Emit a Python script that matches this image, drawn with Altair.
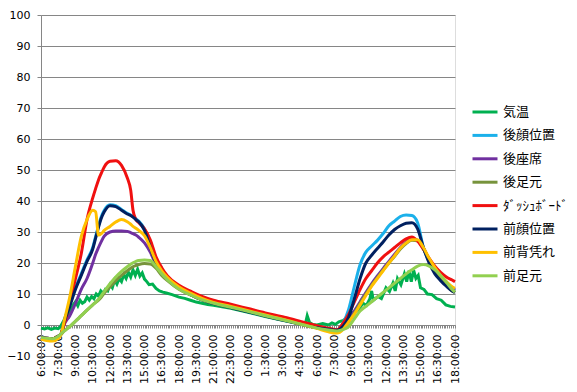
import altair as alt
import pandas as pd

# ---- data (hours after 6:00 of day 1; value in deg C) ----
series_names = ["気温", "後顔位置", "後座席", "後足元", "ﾀﾞｯｼｭﾎﾞｰﾄﾞ", "前顔位置", "前背凭れ", "前足元"]
series_colors = ["#00B050", "#1BB0EA", "#7030A0", "#77933C", "#F01010", "#002060", "#FFC000", "#92D050"]

hours = [0, 0.5, 1, 1.5, 1.75, 2, 2.5, 3, 3.5, 4,
         4.5, 4.75, 5, 5.25, 5.5, 6, 6.5, 7, 7.5, 7.8, 8,
         8.25, 8.5, 9, 9.5, 10, 10.5, 11, 12, 13, 14,
         15, 16.5, 18, 19.5, 21, 22.5, 24, 25, 25.75, 26.25,
         26.75, 27.25, 27.75, 28.25, 28.75, 29.25, 29.75, 30.25, 30.75, 31.25,
         31.75, 32.25, 32.75, 33.25, 33.75, 34.25, 34.75, 35.25, 35.75, 36]

dashboard = [-4, -4.3, -4.4, -3.6, -2.8, 0, 7, 15, 23, 34,
             41, 44, 46.8, 49, 51, 52.8, 53, 51.5, 47.5, 43.5, 37,
             34, 33, 31, 27.5, 22, 18.5, 15.8, 12.8, 10.9, 9.2,
             8, 6.7, 5.3, 3.9, 2.7, 1.2, -0.2, -1, -1.5, 0.5,
             3.5, 7.5, 11.5, 15, 17.5, 20, 22, 23.5, 25, 26.5,
             27.8, 28.4, 27, 24.5, 21.5, 19, 17, 15.5, 14.5, 14]

rear_face = [-4, -4.3, -4.4, -3.6, -2.8, 1, 6.5, 12, 16.5, 21,
             25, 28.5, 32, 35, 37, 38.8, 38.5, 37.3, 36, 35.5, 35,
             34.3, 33.5, 31, 25.5, 20.5, 17.5, 15, 12, 10, 8.3,
             7.1, 5.8, 4.4, 3, 1.7, 0.4, -0.8, -1.3, -1.6, 0.5,
             5, 12.5, 19.5, 23.5, 25.5, 27.3, 29.5, 32, 33.5, 35,
             35.5, 35.3, 33, 25, 20.5, 17, 15, 13, 11.5, 11]

front_face = [-4, -4.3, -4.4, -3.6, -2.8, 0.8, 6, 11.5, 16, 20.5,
              24.5, 28, 31.5, 34.5, 36.5, 38.5, 38.2, 37, 35.8, 35.3, 34.8,
              34, 33.3, 30.5, 25, 20, 17, 14.8, 11.8, 9.8, 8.1,
              6.9, 5.6, 4.3, 2.9, 1.6, 0.3, -0.9, -1.4, -1.7, -0.5,
              2.5, 8.5, 15, 20, 22.5, 24.7, 26.8, 29, 30.8, 32,
              32.8, 33, 31, 25, 20, 16.5, 14.3, 12.5, 11, 10.5]

front_back = [-4.5, -5, -5.2, -4.3, -3, 1, 9, 19, 28.5, 34,
              37, 36.5, 29, 29.5, 30.5, 31.8, 33.2, 34, 33.3, 32.5, 31.8,
              31.2, 30.5, 28.8, 25, 20.5, 17.5, 15.3, 12.3, 10.3, 8.6,
              7.3, 6, 4.6, 3.2, 1.9, 0.4, -1.1, -2.2, -2.6, -1.5,
              1, 3.5, 6.5, 9.5, 12.5, 15, 17.5, 20, 22.3, 24.8,
              26.5, 27.5, 27.5, 25, 21.5, 18.5, 16, 14, 12.3, 11.8]

rear_seat = [-4, -4.3, -4.4, -3.6, -2.8, 0, 3, 7, 11.5, 15,
             20, 22.8, 25, 27, 28.7, 30, 30.3, 30.3, 30.2, 29.8, 29.5,
             29, 28.3, 26.5, 23.5, 19.5, 17, 14.8, 11.8, 9.9, 8.2,
             7.1, 5.8, 4.4, 3.0, 1.8, 0.4, -0.9, -1.6, -2, -1,
             1.5, 4.5, 7.5, 10.5, 13.3, 15.8, 18.2, 20.5, 22.8, 25,
             26.8, 27.8, 27.3, 24.8, 21.3, 18.3, 15.8, 13.8, 12, 11.3]

rear_feet = [-4.2, -4.5, -4.6, -3.8, -3, -2, -0.5, 1.2, 3, 4.8,
             6.5, 7.3, 8, 9, 10.3, 12.3, 14.3, 16, 17.5, 18.3, 18.8,
             19.2, 19.5, 19.8, 19.7, 18.3, 16, 14.3, 11.5, 9.7, 8.1,
             7, 5.8, 4.5, 3.1, 1.8, 0.4, -0.9, -1.7, -2.1, -1.2,
             1, 3.8, 7, 10, 12.8, 15.3, 17.7, 20, 22.2, 24.5,
             26.3, 27.3, 27.2, 24.5, 21, 17.8, 15, 12.8, 11, 10.5]

front_feet = [-4, -4.3, -4.4, -3.6, -2.8, -2, -0.5, 1.3, 3, 4.8,
              6.5, 7.3, 8.3, 9.5, 10.8, 13.3, 15.5, 17.3, 18.8, 19.6, 20.1,
              20.5, 20.8, 21, 20.8, 18.8, 16.5, 14.5, 11.5, 9.7, 8.1,
              7, 5.7, 4.4, 3, 1.7, 0.3, -1, -1.6, -1.9, -1.5,
              -0.5, 2, 4.5, 6, 7.5, 9, 10.5, 12, 13.5, 15,
              16.5, 17.8, 19, 19.5, 19, 17.8, 16, 13.8, 11.5, 10.6]

temp_hours = [0, 0.3, 0.6, 0.9, 1.2, 1.5, 1.7, 2, 2.2, 2.4, 2.6, 2.8, 3, 3.2, 3.4, 3.6, 3.8,
              4, 4.2, 4.4, 4.6, 4.8, 5, 5.2, 5.4, 5.6, 5.8, 6, 6.2, 6.4, 6.6, 6.8,
              7, 7.2, 7.4, 7.6, 7.8, 8, 8.2, 8.4, 8.6, 8.8, 9, 9.2, 9.4, 9.7,
              10, 10.3, 10.6, 10.9, 11.4, 12, 12.5, 13, 13.5, 14.5, 15, 16.5, 18, 19.5, 21, 22.5,
              23, 23.15, 23.35, 23.6, 24, 24.5, 25, 25.3, 25.6, 25.9, 26.3, 26.7, 27.1, 27.6,
              28, 28.3, 28.6, 28.75, 28.9, 29.3, 29.6, 30, 30.3, 30.6, 30.8, 31, 31.3, 31.6, 31.8,
              32, 32.2, 32.4, 32.6, 32.8, 33, 33.3, 33.6, 34, 34.4, 34.8, 35.2, 35.6, 36]
temp_values = [-1, -1.3, -0.9, -1.4, -1, -1.2, -0.5, 1.5, 3.5, 2.8, 5, 6.5, 7.5, 6.2, 8, 7, 7.5,
               9, 8, 9.2, 8.5, 10, 9.3, 11, 10.2, 11.5, 11, 13, 12, 14.5, 13.2, 15,
               14, 16.3, 15, 17, 15.5, 17.8, 16, 18, 15.8, 16.8, 14.8, 14, 13, 13.2,
               11.8, 11, 10.6, 10.3, 9.8, 9, 8.6, 8, 7.4, 6.6, 6.4, 5.4, 4.1, 2.7, 1.5, 0.3,
               0.5, 3, 0.8, 0.2, 0, 0.5, 0, 0.7, 0.2, 1, 1.5, 2.5, 4, 5,
               7, 6.3, 8.5, 11, 8, 9.2, 8.5, 12, 10.8, 13.5, 11, 15, 13, 16.5, 14,
               17.5, 14, 17.7, 15, 16, 12, 11.5, 10, 9.8, 8.5, 8, 6.5, 6, 5.8]

smooth_series = {
    "後顔位置": rear_face,
    "後座席": rear_seat,
    "後足元": rear_feet,
    "ﾀﾞｯｼｭﾎﾞｰﾄﾞ": dashboard,
    "前顔位置": front_face,
    "前背凭れ": front_back,
    "前足元": front_feet,
}

rows = []
for h, v in zip(temp_hours, temp_values):
    rows.append({"h": h, "v": v, "s": "気温", "k": "temp"})
for name, vals in smooth_series.items():
    for h, v in zip(hours, vals):
        rows.append({"h": h, "v": v, "s": name, "k": "smooth"})
df = pd.DataFrame(rows)

# axis tick positions every 10 minutes (labels only every 90 minutes)
tick_values = [i / 6 for i in range(0, 217)]
label_expr = (
    "(abs(datum.value*2 - round(datum.value*2)) < 0.001 && round(datum.value*2) % 3 == 0) ? "
    "(floor((round(datum.value*2)/2 + 6) % 24) + ':' + (round(datum.value*2) % 2 == 1 ? '30' : '00') + ':00') : ''"
)

GRAY = "#868686"
x_enc = alt.X(
    "h:Q",
    scale=alt.Scale(domain=[0, 36], nice=False, zero=False),
    axis=alt.Axis(
        values=tick_values, labelExpr=label_expr, labelAngle=270, labelFlush=False,
        labelOverlap=False, grid=False, tickSize=3, tickColor=GRAY, domainColor=GRAY,
        offset=-31, labelPadding=6, labelFont="DejaVu Sans", labelFontSize=11,
        labelColor="#000000", title=None,
    ),
)
y_enc = alt.Y(
    "v:Q",
    scale=alt.Scale(domain=[-10, 100], nice=False, zero=False),
    axis=alt.Axis(
        values=list(range(-10, 101, 10)), grid=True, gridColor=GRAY, gridWidth=1,
        domainColor=GRAY, tickColor=GRAY, tickSize=4, labelPadding=7,
        labelFont="DejaVu Sans", labelFontSize=11, labelColor="#000000", title=None,
    ),
)
c_enc = alt.Color(
    "s:N",
    scale=alt.Scale(domain=series_names, range=series_colors),
    legend=alt.Legend(
        title=None, orient="none", legendX=430, legendY=83, symbolType="stroke",
        symbolSize=625, symbolStrokeWidth=3, labelFont="Noto Sans CJK JP",
        labelFontSize=13, labelColor="#000000", rowPadding=2.4, labelOffset=4,
        padding=0, labelLimit=0,
    ),
)

base = alt.Chart(df)
temp_line = base.transform_filter(alt.datum.k == "temp").mark_line(
    strokeWidth=3, interpolate="linear"
).encode(x=x_enc, y=y_enc, color=c_enc)
smooth_line = base.transform_filter(alt.datum.k == "smooth").mark_line(
    strokeWidth=3, interpolate="monotone"
).encode(x=x_enc, y=y_enc, color=c_enc)

chart = alt.layer(temp_line, smooth_line).properties(
    width=414, height=341,
    autosize=alt.AutoSizeParams(type="none"),
    padding={"left": 33, "top": 7, "right": 114, "bottom": 28},
).configure_view(strokeWidth=0).configure(background="white")

chart.save("out.html", embed_options={"renderer": "svg", "actions": False})
